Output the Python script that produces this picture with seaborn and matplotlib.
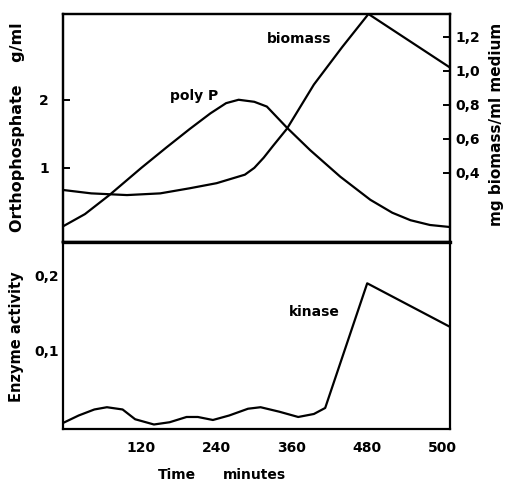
import numpy as np
import pandas as pd
import seaborn as sns
from matplotlib import pyplot as plt

# values (time in minutes)
polyp_t = [-5, 30, 69, 120, 160, 197, 230, 255, 275, 300, 320, 352, 389, 437, 485, 520, 549, 580, 612]
polyp_v = [0.14, 0.32, 0.60, 1.00, 1.30, 1.57, 1.80, 1.95, 2.00, 1.97, 1.90, 1.59, 1.26, 0.87, 0.53, 0.34, 0.23, 0.16, 0.13]

biomass_t = [-5, 40, 97, 150, 197, 240, 285, 300, 315, 330, 352, 395, 440, 482, 612]
biomass_w = [0.30, 0.28, 0.27, 0.28, 0.31, 0.34, 0.39, 0.43, 0.49, 0.56, 0.66, 0.92, 1.14, 1.335, 1.02]

kinase_t = [-5, 20, 45, 65, 90, 110, 140, 165, 192, 210, 234, 260, 290, 310, 340, 370, 395, 413, 480, 612]
kinase_e = [0.003, 0.013, 0.021, 0.024, 0.021, 0.008, 0.001, 0.004, 0.011, 0.011, 0.007, 0.013, 0.022, 0.024, 0.018, 0.011, 0.015, 0.023, 0.189, 0.131]

time_ticks = [120, 240, 360, 480, 600]
time_labels = ['120', '240', '360', '480', '500']
left_ticks = [1, 2]
right_ticks = [0.4, 0.6, 0.8, 1.0, 1.2]
enzyme_ticks = [0.1, 0.2]

def comma(v):
    return '{:.1f}'.format(v).replace('.', ',')

sns.set_style("white")
plt.rcParams['font.family'] = ['DejaVu Sans']
plt.rcParams['font.weight'] = 'bold'
plt.rcParams['text.color'] = 'black'
plt.rcParams['xtick.color'] = 'black'
plt.rcParams['ytick.color'] = 'black'
plt.rcParams['xtick.labelcolor'] = 'black'
plt.rcParams['ytick.labelcolor'] = 'black'

W, H = 507, 488
fig = plt.figure(figsize=(W / 100, H / 100), dpi=100)
ax1 = fig.add_axes([63 / W, 1 - 242 / H, 387 / W, 228 / H])
ax2 = fig.add_axes([63 / W, 1 - 429 / H, 387 / W, 187 / H])
ax1r = ax1.twinx()

sns.lineplot(x=polyp_t, y=polyp_v, ax=ax1, color='black', lw=1.6)
sns.lineplot(x=biomass_t, y=biomass_w, ax=ax1r, color='black', lw=1.6)
sns.lineplot(x=kinase_t, y=kinase_e, ax=ax2, color='black', lw=1.6)

for a in (ax1, ax1r, ax2):
    a.set_xlim(-5, 612)
    a.set_xlabel('')
    a.set_ylabel('')
    for s in a.spines.values():
        s.set_color('black')
        s.set_linewidth(1.6)

ax1.set_ylim(-0.09, 3.26)
ax1r.set_ylim(-0.006, 1.335)
ax2.set_ylim(-0.005, 0.244)

ax1.set_xticks([])
ax1.set_yticks(left_ticks)
ax1.set_yticklabels([str(v) for v in left_ticks])
ax1.tick_params(axis='y', direction='in', length=5, width=1.4, pad=10, labelsize=10, colors='black')
ax1r.set_yticks(right_ticks)
ax1r.set_yticklabels([comma(v) for v in right_ticks])
ax1r.tick_params(axis='y', direction='in', length=5, width=1.4, pad=4, labelsize=10, colors='black')

ax2.set_xticks(time_ticks)
ax2.set_xticklabels(time_labels)
ax2.set_yticks(enzyme_ticks)
ax2.set_yticklabels([comma(v) for v in enzyme_ticks])
ax2.tick_params(axis='x', direction='in', length=5, width=1.4, pad=9, labelsize=10, colors='black')
ax2.tick_params(axis='y', direction='in', length=5, width=1.4, pad=3, labelsize=10, colors='black')
ax2.spines['top'].set_linewidth(2.4)

ax1.text(204, 2.06, 'poly P', ha='center', va='center', fontsize=10, fontweight='bold', color='black')
ax1.text(372, 2.90, 'biomass', ha='center', va='center', fontsize=10, fontweight='bold', color='black')
ax2.text(395, 0.151, 'kinase', ha='center', va='center', fontsize=10, fontweight='bold', color='black')

fig.text(18 / W, 1 - 127 / H, 'Orthophosphate    g/ml', rotation=90, ha='center', va='center',
         fontsize=11.5, fontweight='bold', color='black')
fig.text(497 / W, 1 - 124 / H, 'mg biomass/ml medium', rotation=90, ha='center', va='center',
         fontsize=11, fontweight='bold', color='black')
fig.text(17 / W, 1 - 337 / H, 'Enzyme activity', rotation=90, ha='center', va='center',
         fontsize=10.5, fontweight='bold', color='black')
fig.text(158 / W, 1 - 475 / H, 'Time', ha='left', va='center', fontsize=10, fontweight='bold', color='black')
fig.text(223 / W, 1 - 475 / H, 'minutes', ha='left', va='center', fontsize=10, fontweight='bold', color='black')

fig.savefig('out.png', dpi=100)
